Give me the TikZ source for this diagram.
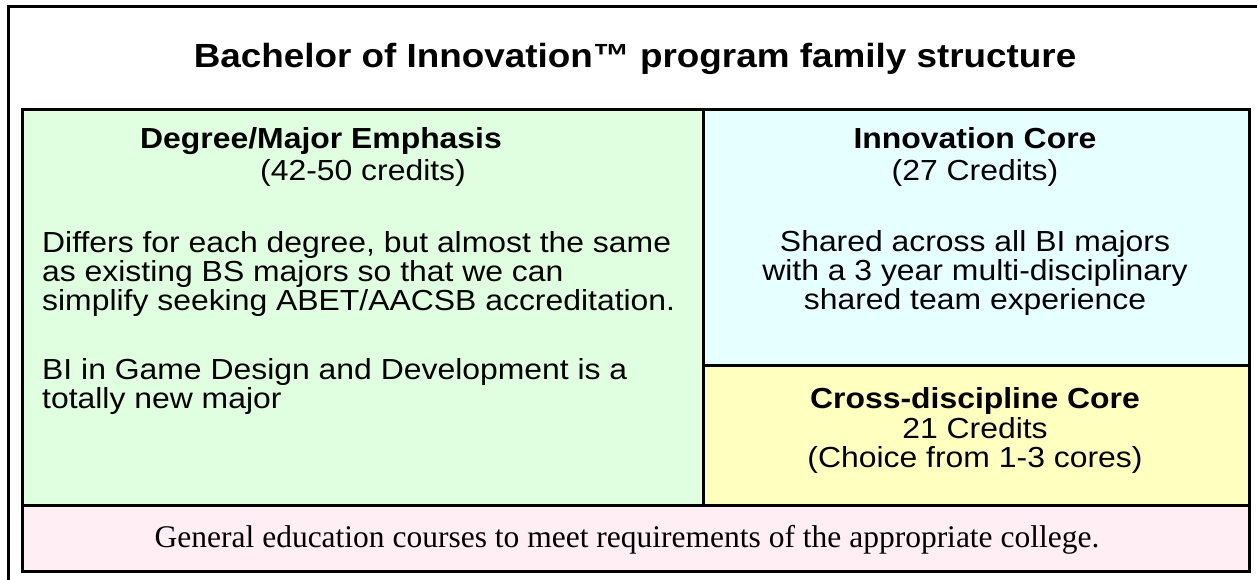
\documentclass[tikz,border=0pt]{standalone}
\usepackage{fontspec}
\setmainfont{Liberation Sans}[FakeStretch=1.1]
\newfontfamily\serifgen{Liberation Serif}
\usepackage{xcolor}
\usetikzlibrary{positioning}
\definecolor{majorgreen}{HTML}{E0FFE0}
\definecolor{corecyan}{HTML}{E6FFFF}
\definecolor{crossyellow}{HTML}{FFFFC0}
\definecolor{genpink}{HTML}{FFEEF4}

\begin{document}
\begin{tikzpicture}[x=1pt,y=-1pt,
  cell/.style={draw=black,line width=2.5pt,rectangle,anchor=north west,inner sep=0pt},
  txt/.style={font=\fontsize{29}{29}\selectfont,inner sep=0pt,align=center},
  head/.style={txt,font=\fontsize{29}{29}\selectfont\bfseries}]
  \useasboundingbox (0,0) rectangle (1257,579);
  % outer frame, runs off the page on the right and bottom
  \draw[line width=3pt] (8,590) -- (8,6.5) -- (1270,6.5);
  \node[font=\fontsize{33.5}{36}\selectfont\bfseries,inner sep=0pt,anchor=base] (title) at (635,67) {Bachelor of Innovation™ program family structure};

  % the four blocks
  \node[cell,fill=majorgreen,minimum width=681pt,minimum height=396pt] (major) at (21,108) {};
  \node[cell,fill=corecyan,minimum width=546pt,minimum height=256pt] (core) at (702,108) {};
  \node[cell,fill=crossyellow,minimum width=546pt,minimum height=140pt] (cross) at (702,364) {};
  \node[cell,fill=genpink,minimum width=1227pt,minimum height=66pt] (gened) at (21,504) {};

  % degree emphasis
  \node[head,anchor=base west] (majorhead) at (140,148) {Degree/Major Emphasis};
  \node[txt,anchor=base west] (majorcred) at (260,180) {(42-50 credits)};
  \node[txt,align=left,anchor=north west] (majortext) at (42,231) {Differs for each degree, but almost the same\\as existing BS majors so that we can\\simplify seeking ABET/AACSB accreditation.};
  \node[txt,align=left,anchor=north west] (gametext) at (42,358) {BI in Game Design and Development is a\\totally new major};

  % innovation core
  \node[head,anchor=base] (corehead) at (975,148) {Innovation Core};
  \node[txt,anchor=base] (corecred) at (975,180) {(27 Credits)};
  \node[txt,anchor=north] (coretext) at (975,230) {Shared across all BI majors\\with a 3 year multi-disciplinary\\shared team experience};

  % cross-discipline core
  \node[head,anchor=base] (crosshead) at (975,408) {Cross-discipline Core};
  \node[txt,anchor=north] (crosstext) at (975,417) {21 Credits\\(Choice from 1-3 cores)};

  % general education
  \node[font=\fontsize{31.5}{34}\serifgen,inner sep=0pt,anchor=base] (gentext) at (627,547) {General education courses to meet requirements of the appropriate college.};
\end{tikzpicture}
\end{document}
